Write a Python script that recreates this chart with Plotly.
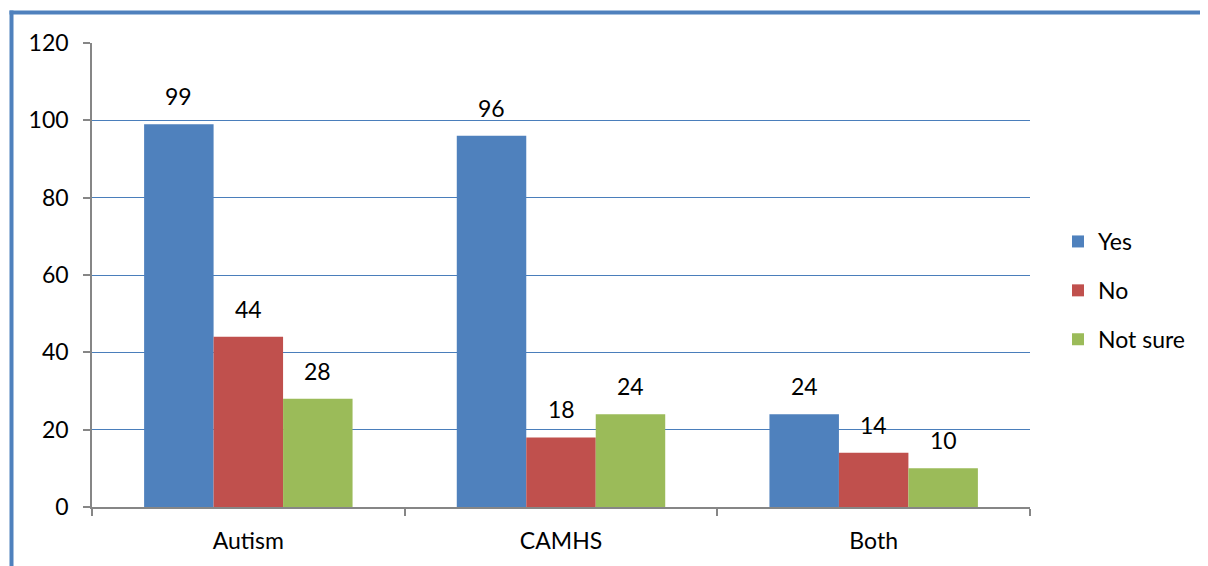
import plotly.graph_objects as go

categories = ["Autism", "CAMHS", "Both"]
series_names = ["Yes", "No", "Not sure"]
yes_vals = [99, 96, 24]
no_vals = [44, 18, 14]
notsure_vals = [28, 24, 10]
colors = ["#4F81BD", "#C0504D", "#9BBB59"]
y_ticks = [0, 20, 40, 60, 80, 100, 120]

FONT = "Lato"
FS = 23

OFF = 8  # page body margin offset
W, H = 1208, 558
L, T = 92 - OFF, 43 - OFF
pw, ph = 938, 464
R = W - L - pw
B = H - T - ph

fig = go.Figure()
all_vals = [yes_vals, no_vals, notsure_vals]
for i, (name, vals, col) in enumerate(zip(series_names, all_vals, colors)):
    fig.add_trace(go.Bar(
        x=categories, y=vals, name=name, marker_color=col,
        marker_line_width=0, legendgroup=name,
    ))

bar_px = pw / 3 * (2 / 3) / 3
annotations = []
for i, vals in enumerate(all_vals):
    for c, v in zip(categories, vals):
        annotations.append(dict(
            x=c, y=v, xref="x", yref="y", text=str(v), showarrow=False,
            xshift=(i - 1) * bar_px, yshift=28, yanchor="middle",
            font=dict(family=FONT, size=FS, color="#000000"),
        ))

def px_x(p):
    return (p - OFF - L) / pw

def px_y(p):
    return (H - B - (p - OFF)) / ph

border = dict(color="#4F81BD", width=4)
shapes = [
    dict(type="line", xref="paper", yref="paper",
         x0=px_x(11.5), x1=px_x(11.5), y0=px_y(640), y1=px_y(10.5), line=border, layer="below"),
    dict(type="line", xref="paper", yref="paper",
         x0=px_x(9.5), x1=px_x(1300), y0=px_y(12.5), y1=px_y(12.5), line=border, layer="below"),
]

fig.update_layout(
    width=W, height=H,
    margin=dict(l=L, r=R, t=T, b=B, pad=0),
    paper_bgcolor="white", plot_bgcolor="white",
    barmode="group", bargap=1 / 3, bargroupgap=0,
    font=dict(family=FONT, size=FS, color="#000000"),
    showlegend=True,
    legend=dict(
        x=px_x(1058), y=px_y(220), xanchor="left", yanchor="top",
        font=dict(family=FONT, size=FS), tracegroupgap=16,
        traceorder="grouped", itemwidth=30,
        bgcolor="rgba(0,0,0,0)",
    ),
    annotations=annotations,
    shapes=shapes,
    xaxis=dict(
        showline=True, linecolor="#868686", linewidth=1.5,
        ticks="outside", tickson="boundaries", ticklen=7, tickcolor="#868686",
        tickwidth=1.5, showgrid=False, ticklabelstandoff=13,
    ),
    yaxis=dict(
        range=[0, 120], tickvals=y_ticks, showline=True, linecolor="#868686",
        linewidth=1.5, ticks="outside", ticklen=7, tickcolor="#868686",
        tickwidth=1.5, showgrid=True, gridcolor="#4A7EBB", gridwidth=1,
        zeroline=False, ticklabelstandoff=10,
    ),
)

fig.write_html("out.html")
